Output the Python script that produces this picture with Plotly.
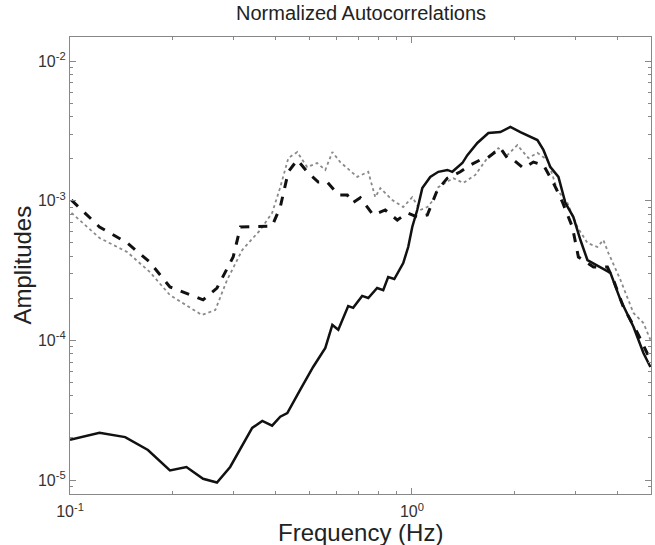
import plotly.graph_objects as go

# Frequency (Hz) and amplitude readings for each autocorrelation curve
freq_solid = [0.100, 0.122, 0.145, 0.169, 0.196, 0.219, 0.245, 0.269, 0.294, 0.341, 0.365, 0.390,
              0.412, 0.432, 0.471, 0.514, 0.558, 0.585, 0.609, 0.651, 0.673, 0.715, 0.745, 0.791,
              0.824, 0.852, 0.888, 0.943, 0.975, 1.002, 1.036, 1.072, 1.131, 1.194, 1.269, 1.312,
              1.404, 1.452, 1.553, 1.673, 1.813, 1.940, 2.075, 2.327, 2.423, 2.540, 2.681, 2.810,
              2.965, 3.109, 3.259, 3.557, 3.805, 4.070, 4.443, 4.752, 4.98]
amp_solid = [1.94e-5, 2.18e-5, 2.03e-5, 1.64e-5, 1.17e-5, 1.24e-5, 1.02e-5, 9.6e-6, 1.24e-5, 2.36e-5,
             2.65e-5, 2.45e-5, 2.84e-5, 3.02e-5, 4.42e-5, 6.45e-5, 8.82e-5, 1.29e-4, 1.19e-4, 1.76e-4,
             1.71e-4, 2.08e-4, 2.01e-4, 2.37e-4, 2.29e-4, 2.84e-4, 2.75e-4, 3.58e-4, 4.66e-4, 6.48e-4,
             8.58e-4, 1.23e-3, 1.48e-3, 1.61e-3, 1.66e-3, 1.61e-3, 1.86e-3, 2.12e-3, 2.59e-3, 3.05e-3,
             3.10e-3, 3.37e-3, 3.10e-3, 2.72e-3, 2.31e-3, 1.74e-3, 1.48e-3, 9.63e-4, 7.64e-4, 5.23e-4,
             3.76e-4, 3.35e-4, 3.04e-4, 1.95e-4, 1.25e-4, 8.12e-5, 6.45e-5]

freq_dashed = [0.101, 0.122, 0.147, 0.171, 0.196, 0.245, 0.269, 0.300, 0.315, 0.390, 0.412, 0.435,
               0.462, 0.494, 0.532, 0.565, 0.609, 0.647, 0.669, 0.706, 0.770, 0.835, 0.906, 0.969,
               1.036, 1.109, 1.186, 1.269, 1.385, 1.481, 1.585, 1.661, 1.813, 1.901, 1.980, 2.117,
               2.265, 2.423, 2.592, 2.754, 2.945, 3.067, 3.394, 3.729, 3.882, 4.153, 4.564, 4.98]
amp_dashed = [1.01e-3, 6.48e-4, 4.98e-4, 3.64e-4, 2.41e-4, 1.95e-4, 2.37e-4, 3.95e-4, 6.48e-4,
              6.59e-4, 9.01e-4, 1.61e-3, 1.96e-3, 1.61e-3, 1.36e-3, 1.36e-3, 1.10e-3, 1.10e-3,
              9.63e-4, 1.05e-3, 7.90e-4, 8.58e-4, 7.27e-4, 8.17e-4, 7.64e-4, 7.90e-4, 1.19e-3,
              1.45e-3, 1.61e-3, 1.80e-3, 1.96e-3, 2.02e-3, 2.38e-3, 2.02e-3, 1.96e-3, 1.71e-3,
              1.89e-3, 1.80e-3, 1.34e-3, 9.79e-4, 6.48e-4, 3.95e-4, 3.35e-4, 3.35e-4, 2.71e-4,
              1.73e-4, 1.13e-4, 7.24e-5]

freq_dotted = [0.101, 0.122, 0.147, 0.171, 0.196, 0.243, 0.266, 0.288, 0.319, 0.360, 0.390, 0.412,
               0.435, 0.462, 0.494, 0.528, 0.558, 0.585, 0.617, 0.692, 0.745, 0.781, 0.808, 0.876,
               0.943, 1.002, 1.057, 1.109, 1.154, 1.194, 1.321, 1.413, 1.532, 1.661, 1.789, 1.901,
               2.033, 2.190, 2.327, 2.489, 2.662, 2.848, 3.046, 3.259, 3.486, 3.629, 3.754, 4.070,
               4.443, 4.752, 4.98]
amp_dotted = [8.17e-4, 5.41e-4, 4.29e-4, 3.09e-4, 2.11e-4, 1.52e-4, 1.65e-4, 2.71e-4, 4.44e-4,
              6.17e-4, 8.17e-4, 1.25e-3, 2.02e-3, 2.23e-3, 1.74e-3, 1.86e-3, 1.66e-3, 2.23e-3,
              1.89e-3, 1.48e-3, 1.61e-3, 1.06e-3, 1.23e-3, 1.01e-3, 9.01e-4, 1.06e-3, 8.58e-4,
              9.01e-4, 1.01e-3, 1.25e-3, 1.45e-3, 1.34e-3, 1.53e-3, 2.02e-3, 2.38e-3, 2.12e-3,
              2.50e-3, 2.02e-3, 2.20e-3, 1.96e-3, 1.19e-3, 9.63e-4, 6.48e-4, 4.98e-4, 4.66e-4,
              5.23e-4, 4.22e-4, 2.71e-4, 1.57e-4, 1.33e-4, 1.01e-4]

x_major = [0.1, 1]
x_major_text = ["10<sup>-1</sup>", "10<sup>0</sup>"]
x_minor = [0.2, 0.3, 0.4, 0.5, 0.6, 0.7, 0.8, 0.9, 2, 3, 4, 5]
y_major = [1e-5, 1e-4, 1e-3, 1e-2]
y_major_text = ["10<sup>-5</sup>", "10<sup>-4</sup>", "10<sup>-3</sup>", "10<sup>-2</sup>"]
y_minor = [m * 10.0 ** e for e in (-6, -5, -4, -3, -2) for m in range(2, 10)]

title_text = "Normalized Autocorrelations"
x_title = "Frequency (Hz)"
y_title = "Amplitudes"

FONT = "Liberation Sans, Arial, sans-serif"

fig = go.Figure()
fig.add_trace(go.Scatter(x=freq_dotted, y=amp_dotted, mode="lines",
                         line=dict(color="#8a8a8a", width=1.8, dash="dot"), showlegend=False))
fig.add_trace(go.Scatter(x=freq_dashed, y=amp_dashed, mode="lines",
                         line=dict(color="#111111", width=3, dash="dash"), showlegend=False))
fig.add_trace(go.Scatter(x=freq_solid, y=amp_solid, mode="lines",
                         line=dict(color="#111111", width=2.5), showlegend=False))

axis_common = dict(showgrid=False, zeroline=False, showline=True, linecolor="#888888", linewidth=1.2,
                   mirror="ticks", ticks="inside", ticklen=6, tickcolor="#888888", automargin=False,
                   tickfont=dict(family=FONT, size=16, color="#333333"))

fig.update_layout(
    width=655, height=545,
    paper_bgcolor="white", plot_bgcolor="white",
    margin=dict(l=70, r=4, t=37, b=51),
    xaxis=dict(type="log", range=[-1, 0.6990], tickvals=x_major, ticktext=x_major_text,
               ticklabelstandoff=3,
               minor=dict(tickvals=x_minor, ticks="inside", ticklen=3, tickcolor="#888888"),
               **axis_common),
    yaxis=dict(type="log", range=[-5.1, -1.828], tickvals=y_major, ticktext=y_major_text,
               minor=dict(tickvals=y_minor, ticks="inside", ticklen=3, tickcolor="#888888"),
               **axis_common),
    annotations=[
        dict(text=title_text, xref="paper", yref="paper", x=0.5, y=1, xanchor="center",
             yanchor="middle", yshift=24, showarrow=False,
             font=dict(family=FONT, size=20, color="#222222")),
        dict(text=x_title, xref="paper", yref="paper", x=0.5, y=0, xanchor="center",
             yanchor="middle", yshift=-38, showarrow=False,
             font=dict(family=FONT, size=24, color="#222222")),
        dict(text=y_title, xref="paper", yref="paper", x=0, y=0.5, xanchor="center",
             yanchor="middle", xshift=-48, textangle=-90, showarrow=False,
             font=dict(family=FONT, size=24, color="#222222")),
    ],
)

fig.write_html("out.html", config={"displayModeBar": False},
               post_script="document.body.style.margin='0';")
